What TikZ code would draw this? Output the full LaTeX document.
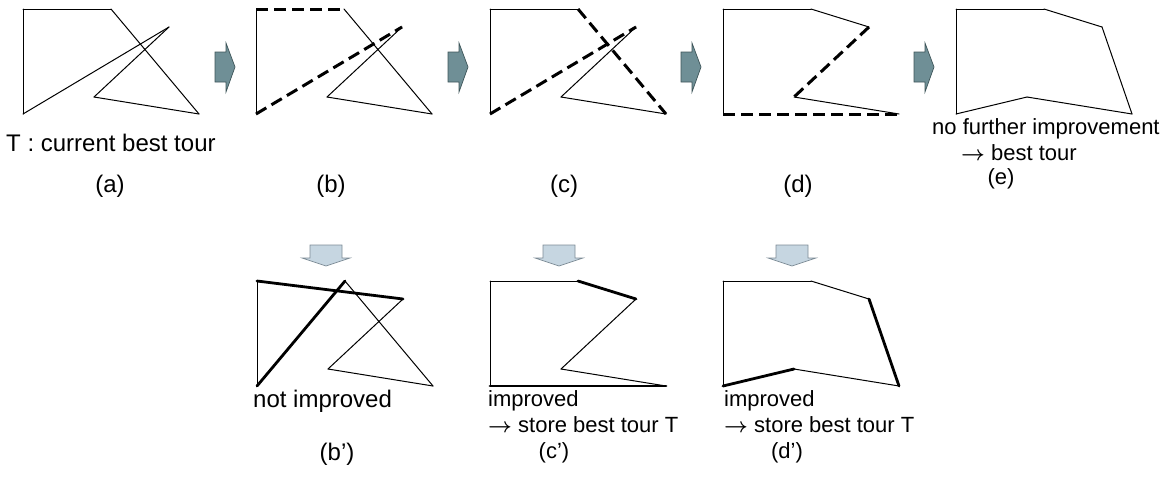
\documentclass[tikz,border=0pt]{standalone}
\usepackage{bm}
\usepackage{fontspec}
\setmainfont{Liberation Sans}
\definecolor{arrowteal}{HTML}{6F8F96}
\definecolor{arrowtealdark}{HTML}{3E5559}
\definecolor{arrowlight}{HTML}{C6D6E1}
\definecolor{arrowlightdark}{HTML}{7D8C96}
\newcommand\tarr{$\bm{\rightarrow}$}
\newcommand\defpts[3]{%
  \coordinate (#1TL) at (#2,#3);
  \coordinate (#1TR) at ({#2+88},#3);
  \coordinate (#1P)  at ({#2+146},{#3+18});
  \coordinate (#1I)  at ({#2+71},{#3+88});
  \coordinate (#1BR) at ({#2+176},{#3+105});
  \coordinate (#1BL) at (#2,{#3+105});
}
\newcommand\rblock[1]{%
  \draw[rarrow] (#1,52) -- ({#1+11},52) -- ({#1+11},43) -- ({#1+20},67)
    -- ({#1+11},92) -- ({#1+11},82) -- (#1,82) -- cycle;
}
\newcommand\dblock[1]{%
  \draw[darrow] ({#1-16},245) -- ({#1-16},258) -- ({#1-24},258) -- (#1,266)
    -- ({#1+24},258) -- ({#1+16},258) -- ({#1+16},245) -- cycle;
}
\begin{document}
\begin{tikzpicture}[x=1pt,y=-1pt,
  edge/.style={line width=1pt, line cap=round},
  dashedge/.style={line width=3pt, dash pattern=on 12pt off 6pt},
  thickedge/.style={line width=2.8pt, line cap=round},
  rarrow/.style={fill=arrowteal, draw=arrowtealdark, line width=0.7pt},
  darrow/.style={fill=arrowlight, draw=arrowlightdark, line width=0.7pt},
  txt/.style={inner sep=0pt, font=\fontsize{22}{24}\selectfont},
  bigtxt/.style={inner sep=0pt, font=\fontsize{24}{26}\selectfont},
]
\useasboundingbox (0,0) rectangle (1169,480);

\defpts{a}{23}{9}
\defpts{b}{256}{9}
\defpts{c}{490}{9}
\defpts{d}{723}{9}
\defpts{e}{956}{9}
\defpts{bp}{257}{281}
\defpts{cp}{490}{281}
\defpts{dp}{723}{281}

% (a)
\draw[edge] (aTL) -- (aTR);
\draw[edge] (aTR) -- (aBR);
\draw[edge] (aBR) -- (aI);
\draw[edge] (aI) -- (aP);
\draw[edge] (aP) -- (aBL);
\draw[edge] (aBL) -- (aTL);

% (b)
\draw[edge] (bTR) -- (bBR);
\draw[edge] (bBR) -- (bI);
\draw[edge] (bI) -- (bP);
\draw[edge] (bBL) -- (bTL);
\draw[dashedge] (bTL) -- (bTR);
\draw[dashedge] (bBL) -- (bP);

% (c)
\draw[edge] (cTL) -- (cTR);
\draw[edge] (cBR) -- (cI);
\draw[edge] (cI) -- (cP);
\draw[edge] (cBL) -- (cTL);
\draw[dashedge] (cBL) -- (cP);
\draw[dashedge] (cTR) -- (cBR);

% (d)
\draw[edge] (dTL) -- (dTR);
\draw[edge] (dTR) -- (dP);
\draw[edge] (dI) -- (dBR);
\draw[edge] (dBL) -- (dTL);
\draw[dashedge] (dP) -- (dI);
\draw[dashedge] (dBL) -- (dBR);

% (e)
\draw[edge] (eTL) -- (eTR);
\draw[edge] (eTR) -- (eP);
\draw[edge] (eP) -- (eBR);
\draw[edge] (eBR) -- (eI);
\draw[edge] (eI) -- (eBL);
\draw[edge] (eBL) -- (eTL);

% (b')
\draw[edge] (bpP) -- (bpI);
\draw[edge] (bpI) -- (bpBR);
\draw[edge] (bpBR) -- (bpTR);
\draw[edge] (bpBL) -- (bpTL);
\draw[thickedge] (bpTL) -- (bpP);
\draw[thickedge] (bpTR) -- (bpBL);

% (c')
\draw[edge] (cpTL) -- (cpTR);
\draw[edge] (cpP) -- (cpI);
\draw[edge] (cpI) -- (cpBR);
\draw[edge] (cpBL) -- (cpTL);
\draw[thickedge] (cpTR) -- (cpP);
\draw[thickedge] (cpBR) -- (cpBL);

% (d')
\draw[edge] (dpTL) -- (dpTR);
\draw[edge] (dpTR) -- (dpP);
\draw[edge] (dpBR) -- (dpI);
\draw[edge] (dpBL) -- (dpTL);
\draw[thickedge] (dpP) -- (dpBR);
\draw[thickedge] (dpI) -- (dpBL);

% block arrows
\rblock{215}
\rblock{448}
\rblock{681}
\rblock{914}
\dblock{326}
\dblock{559}
\dblock{792}

% texts
\node[bigtxt, anchor=base west] (ta) at (6,151) {T : current best tour};
\node[bigtxt, anchor=base] (la) at (110,192) {(a)};
\node[bigtxt, anchor=base] (lb) at (331,192) {(b)};
\node[bigtxt, anchor=base] (lc) at (564,192) {(c)};
\node[bigtxt, anchor=base] (ld) at (798,192) {(d)};
\node[txt, anchor=base west] (te1) at (932,134) {no further improvement};
\node[txt, anchor=base west] (te2) at (961,160) {\tarr\ best tour};
\node[txt, anchor=base] (le) at (1001,184) {(e)};

\node[bigtxt, anchor=base west] (tbp) at (253,407) {not improved};
\node[bigtxt, anchor=base] (lbp) at (337,460) {(b’)};

\node[txt, anchor=base west] (tcp1) at (488,406) {improved};
\node[txt, anchor=base west] (tcp2) at (488,432) {\tarr\ store best tour T};
\node[txt, anchor=base] (lcp) at (554,458) {(c’)};

\node[txt, anchor=base west] (tdp1) at (724,406) {improved};
\node[txt, anchor=base west] (tdp2) at (724,432) {\tarr\ store best tour T};
\node[txt, anchor=base] (ldp) at (787,458) {(d’)};
\end{tikzpicture}
\end{document}
